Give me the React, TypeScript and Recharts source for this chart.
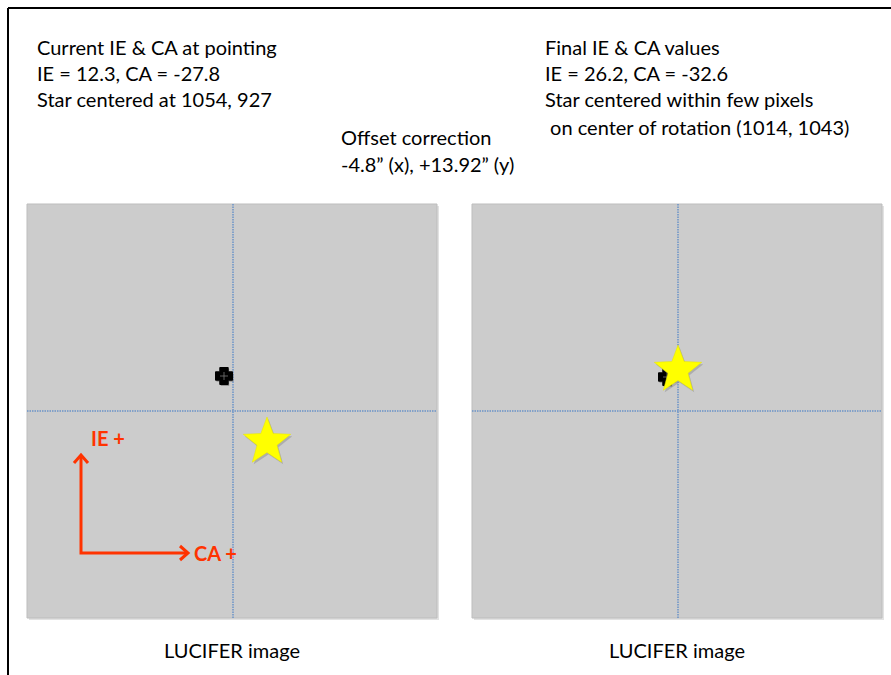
import React from 'react';
import { ScatterChart, Scatter, XAxis, YAxis, ReferenceArea, ReferenceLine } from 'recharts';

// everything is laid out in page units: x 0..891, y 0..675 (y grows downwards)
const W = 891;
const H = 675;
const FONT = 'Lato, "Open Sans", sans-serif';

const panels = [
  { x1: 27, x2: 437, y1: 204, y2: 618 },
  { x1: 472, x2: 882, y1: 204, y2: 618 },
];

// center of rotation marked in each panel
const crosshairs = [
  { x: 233, y: 411 },
  { x: 678, y: 411 },
];

const pointingMarks = [
  { x: 224, y: 376 },
  { x: 667, y: 377 },
];

const stars = [
  { x: 267, y: 442 },
  { x: 678, y: 370 },
];

const arrowPath = [
  { x: 81, y: 455, dir: 'up' },
  { x: 81, y: 553, dir: '' },
  { x: 188, y: 553, dir: 'right' },
];

const arrowLabels = [
  { x: 91, y: 439, text: 'IE +' },
  { x: 194, y: 554, text: 'CA +' },
];

const notes = [
  { x: 37, y: 48, text: 'Current IE & CA at pointing' },
  { x: 37, y: 74, text: 'IE = 12.3, CA = -27.8' },
  { x: 37, y: 100, text: 'Star centered at 1054, 927' },
  { x: 545, y: 48, text: 'Final IE & CA values' },
  { x: 545, y: 74, text: 'IE = 26.2, CA = -32.6' },
  { x: 545, y: 100, text: 'Star centered within few pixels' },
  { x: 545, y: 128, text: '\u00a0on center of rotation (1014, 1043)' },
  { x: 341, y: 138, text: 'Offset correction' },
  { x: 341, y: 165, text: '-4.8\u201d (x), +13.92\u201d (y)' },
];

const captions = [
  { x: 232, y: 651, text: 'LUCIFER image' },
  { x: 677, y: 651, text: 'LUCIFER image' },
];

const starPoints = (cx: number, cy: number, R: number, r: number) => {
  const pts: string[] = [];
  for (let i = 0; i < 10; i++) {
    const a = (Math.PI / 5) * i - Math.PI / 2;
    const rad = i % 2 === 0 ? R : r;
    pts.push(`${cx + rad * Math.cos(a)},${cy + rad * Math.sin(a)}`);
  }
  return pts.join(' ');
};

const StarShape = (props: any) => {
  const { cx, cy } = props;
  return (
    <g>
      <polygon points={starPoints(cx + 1.5, cy + 2, 25, 10.5)} fill="#888" opacity={0.45} />
      <polygon points={starPoints(cx, cy, 25, 10.5)} fill="#ffff00" stroke="#e6e600" strokeWidth={0.5} />
    </g>
  );
};

const CrossShape = (props: any) => {
  const { cx, cy } = props;
  const a = 8.5;
  const b = 4.2;
  const d = `M${cx - b},${cy - a} H${cx + b} V${cy - b} H${cx + a} V${cy + b} H${cx + b} V${cy + a} H${cx - b} V${cy + b} H${cx - a} V${cy - b} H${cx - b} Z`;
  return (
    <g>
      <path d={d} fill="#444" opacity={0.4} transform="translate(1,1.5)" />
      <path d={d} fill="#000" stroke="#000" strokeWidth={1} />
      <path d={`M${cx - 4},${cy} H${cx + 4} M${cx},${cy - 4} V${cy + 4}`} stroke="#777" strokeWidth={0.8} />
    </g>
  );
};

const ArrowHead = (props: any) => {
  const { cx, cy, payload } = props;
  if (payload.dir === 'up') {
    return <path d={`M${cx - 7},${cy + 8} L${cx},${cy} L${cx + 7},${cy + 8}`} fill="none" stroke="#ff3300" strokeWidth={3} />;
  }
  if (payload.dir === 'right') {
    return <path d={`M${cx - 8},${cy - 7} L${cx},${cy} L${cx - 8},${cy + 7}`} fill="none" stroke="#ff3300" strokeWidth={3} />;
  }
  return <g />;
};

const textShape = (anchor: 'start' | 'middle', size: number, color: string, weight: number) => (props: any) => (
  <text
    x={props.cx}
    y={props.cy}
    dy="0.35em"
    textAnchor={anchor}
    fontFamily={FONT}
    fontSize={size}
    fontWeight={weight}
    fill={color}
  >
    {props.payload.text}
  </text>
);

export default function App() {
  return (
    <div style={{ position: 'absolute', left: 0, top: 0, background: '#fff' }}>
      <ScatterChart width={W} height={H} margin={{ top: 0, right: 0, bottom: 0, left: 0 }}>
        <XAxis type="number" dataKey="x" domain={[0, W]} hide />
        <YAxis type="number" dataKey="y" domain={[0, H]} reversed hide />

        {/* outer frame */}
        <ReferenceLine segment={[{ x: 8, y: 8 }, { x: W, y: 8 }]} stroke="#000" strokeWidth={2} />
        <ReferenceLine segment={[{ x: 8, y: 8 }, { x: 8, y: H }]} stroke="#000" strokeWidth={2} />

        {panels.map((p, i) => (
          <ReferenceArea key={`sh${i}`} x1={p.x1 + 2} x2={p.x2 + 2} y1={p.y1 + 2} y2={p.y2 + 2} fill="#e2e2e2" fillOpacity={1} stroke="none" />
        ))}
        {panels.map((p, i) => (
          <ReferenceArea key={`p${i}`} x1={p.x1} x2={p.x2} y1={p.y1} y2={p.y2} fill="#cccccc" fillOpacity={1} stroke="#bdbdbd" strokeWidth={1} />
        ))}
        {crosshairs.map((c, i) => (
          <ReferenceLine key={`v${i}`} segment={[{ x: c.x, y: panels[i].y1 }, { x: c.x, y: panels[i].y2 }]} stroke="#6a93c8" strokeWidth={1.5} strokeDasharray="1.5 1" />
        ))}
        {crosshairs.map((c, i) => (
          <ReferenceLine key={`h${i}`} segment={[{ x: panels[i].x1, y: c.y }, { x: panels[i].x2, y: c.y }]} stroke="#6a93c8" strokeWidth={1.5} strokeDasharray="1.5 1" />
        ))}

        <Scatter data={arrowPath} line={{ stroke: '#ff3300', strokeWidth: 3 }} lineType="joint" shape={ArrowHead} isAnimationActive={false} />
        <Scatter data={arrowLabels} shape={textShape('start', 20, '#ff3300', 700)} isAnimationActive={false} />
        <Scatter data={pointingMarks} shape={CrossShape} isAnimationActive={false} />
        <Scatter data={stars} shape={StarShape} isAnimationActive={false} />
        <Scatter data={notes} shape={textShape('start', 20, '#000', 400)} isAnimationActive={false} />
        <Scatter data={captions} shape={textShape('middle', 20, '#000', 400)} isAnimationActive={false} />
      </ScatterChart>
    </div>
  );
}
